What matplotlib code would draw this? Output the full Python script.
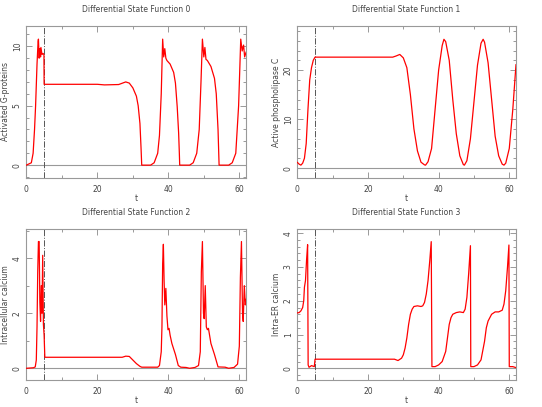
import matplotlib
matplotlib.use('Agg')
import matplotlib.pyplot as plt
from matplotlib.ticker import MultipleLocator

# ---- data ----
t0 = [0, 1.4, 1.9, 2.3, 2.6, 3.0, 3.3, 3.4, 3.6, 3.8, 4.0, 4.1, 4.4, 4.7, 4.95, 5.0,
      20, 22, 26, 28, 29, 30, 31, 31.5, 32, 32.3, 32.5,
      35, 36, 37, 37.5, 38, 38.4, 38.7, 39.0, 39.3, 39.6, 40.5, 41.5, 42.0, 42.5, 42.9, 43.1, 43.2,
      46, 47, 48, 48.7, 49.2, 49.6, 50.0, 50.3, 50.6, 51.0, 52.0, 53.0, 53.5, 54.0, 54.3,
      57, 58, 59, 59.8, 60.4, 60.8, 61.2, 61.5, 61.9]
y0 = [0, 0.2, 1.0, 3.0, 5.0, 8.5, 10.4, 10.6, 9.0, 9.8, 9.1, 9.9, 9.3, 9.4, 9.3, 6.8,
      6.8, 6.75, 6.78, 7.0, 6.9, 6.5, 5.8, 5.0, 3.5, 1.5, 0,
      0, 0.2, 1.0, 2.5, 6.0, 10.6, 9.1, 9.8, 9.0, 8.8, 8.5, 7.8, 6.9, 4.9, 2.7, 1.0, 0,
      0, 0.2, 1.0, 3.0, 7.0, 10.6, 9.1, 9.9, 8.9, 8.8, 8.3, 7.3, 6.0, 3.0, 0,
      0, 0.2, 1.0, 5.0, 10.6, 9.6, 10.1, 9.1, 9.5]

t1 = [0, 0.5, 1.0, 1.5, 2.0, 2.5, 3.0, 3.5, 4.0, 4.5, 5.0,
      27, 28, 29, 30, 31, 32, 33, 34, 35, 36, 36.3, 37, 38, 39, 40, 41, 41.5, 42, 43, 44, 45, 46, 47, 47.3,
      48, 49, 50, 51, 52, 52.6, 53, 54, 55, 56, 57, 58, 58.5, 59, 60, 61, 61.9]
y1 = [1.15, 0.8, 0.6, 1.0, 2.0, 5.0, 12.0, 18.0, 20.5, 22.0, 22.65,
      22.65, 22.9, 23.2, 22.5, 20.5, 15.0, 8.0, 3.5, 1.2, 0.65, 0.6, 1.3, 4.0, 12.0, 20.0, 25.0, 26.3, 25.8, 22.0, 14.0, 7.0, 2.5, 0.7, 0.6,
      1.5, 6.0, 13.5, 21.0, 25.5, 26.3, 25.7, 21.5, 14.0, 6.5, 2.5, 0.8, 0.6, 1.0, 4.0, 12.0, 21.1]

t2 = [0, 2.0, 2.5, 2.8, 3.0, 3.2, 3.4, 3.6, 3.8, 4.0, 4.2, 4.4, 4.6, 4.8, 5.0, 5.2,
      27, 28, 29, 30, 31, 32, 32.5, 37, 37.5, 38, 38.2, 38.4, 38.6, 38.8, 39.0, 39.3, 39.6, 39.9,
      40.2, 40.5, 41, 42, 42.8, 43.5, 45, 46, 47.5, 48.5, 49.0, 49.3, 49.6, 49.9, 50.1, 50.4, 50.7,
      51.0, 51.3, 52, 53, 54, 56, 57, 58.5, 59.5, 60.0, 60.3, 60.6, 60.9, 61.1, 61.4, 61.7, 61.9]
y2 = [0.0, 0.02, 0.05, 0.3, 1.5, 3.5, 4.6, 4.6, 2.4, 1.7, 3.0, 2.0, 4.1, 1.6, 1.2, 0.4,
      0.4, 0.44, 0.43, 0.3, 0.17, 0.07, 0.04, 0.04, 0.1, 0.6, 1.5, 3.8, 4.5, 3.2, 2.3, 2.9, 1.9, 1.4,
      1.45, 1.2, 0.9, 0.5, 0.1, 0.04, 0.03, 0.0, 0.03, 0.1, 0.6, 3.5, 4.6, 2.0, 1.8, 3.0, 1.5,
      1.4, 1.45, 0.9, 0.5, 0.05, 0.04, 0.0, 0.03, 0.15, 0.8, 3.3, 4.6, 2.0, 1.7, 3.0, 2.3, 2.5]

t3 = [0, 0.5, 1.0, 1.5, 1.8, 2.0, 2.3, 2.6, 2.9, 3.05, 3.3, 4.0, 4.8, 5.0,
      27.5, 28.5, 29.5, 30, 30.5, 31, 31.5, 32, 32.5, 33, 34, 35, 35.5, 36, 36.5, 37, 37.5, 37.9,
      38.1, 39, 40, 41, 42, 42.5, 43, 43.5, 44, 45, 46, 47, 47.5, 48, 48.5, 49.0,
      49.1, 50, 51, 52, 53, 53.5, 54, 55, 56, 57, 58, 58.5, 59, 59.5, 59.9,
      60.0, 61, 61.9]
y3 = [1.64, 1.65, 1.7, 1.8, 2.0, 2.4, 2.6, 3.2, 3.66, 0.1, 0.03, 0.08, 0.05, 0.27,
      0.27, 0.23, 0.3, 0.4, 0.6, 0.9, 1.3, 1.6, 1.75, 1.83, 1.85, 1.83, 1.85, 1.95, 2.2, 2.6, 3.2, 3.75,
      0.05, 0.05, 0.1, 0.2, 0.5, 0.9, 1.3, 1.5, 1.6, 1.65, 1.67, 1.65, 1.75, 2.1, 2.8, 3.63,
      0.05, 0.05, 0.1, 0.25, 0.8, 1.2, 1.4, 1.6, 1.67, 1.67, 1.72, 1.9, 2.3, 3.0, 3.65,
      0.05, 0.05, 0.02]

titles = ['Differential State Function 0', 'Differential State Function 1',
          'Differential State Function 2', 'Differential State Function 3']
ylabels = ['Activated G-proteins', 'Active phospholipase C',
           'Intracellular calcium', 'Intra-ER calcium']
ylims = [(-1.07, 11.7), (-2.0, 29.0), (-0.43, 5.05), (-0.35, 4.12)]
ymajor = [5, 10, 2, 1]
yminor = [1, 2, 1, 0.2]
series = [(t0, y0), (t1, y1), (t2, y2), (t3, y3)]

txt = '#444444'
frame = '#999999'
fs = 5.5

fig = plt.figure(figsize=(5.42, 4.07), dpi=100)
boxes = [(0.048, 0.563, 0.406, 0.373), (0.548, 0.563, 0.404, 0.373),
         (0.048, 0.066, 0.406, 0.371), (0.548, 0.066, 0.404, 0.371)]

for i in range(4):
    ax = fig.add_axes(boxes[i])
    t, y = series[i]
    ax.axhline(0, color=frame, lw=0.8, zorder=1)
    ax.axvline(5, color='#555555', lw=0.7, ls='-.', zorder=1)
    ax.plot(t, y, color='red', lw=0.9, zorder=3)
    ax.set_xlim(-0.1, 61.9)
    ax.set_ylim(*ylims[i])
    ax.xaxis.set_major_locator(MultipleLocator(20))
    ax.xaxis.set_minor_locator(MultipleLocator(10))
    ax.yaxis.set_major_locator(MultipleLocator(ymajor[i]))
    ax.yaxis.set_minor_locator(MultipleLocator(yminor[i]))
    ax.tick_params(which='both', direction='in', top=True, right=True,
                   color=frame, labelcolor=txt, labelsize=fs, width=0.7)
    ax.tick_params(which='major', length=4)
    ax.tick_params(which='minor', length=2)
    ax.tick_params(axis='x', which='major', pad=5)
    ax.tick_params(axis='y', which='major', pad=3)
    for lab in ax.get_yticklabels():
        lab.set_rotation(90)
        lab.set_va('center')
    for s in ax.spines.values():
        s.set_color(frame)
        s.set_linewidth(0.8)
    ax.set_title(titles[i], fontsize=fs, color=txt, pad=10)
    ax.set_ylabel(ylabels[i], fontsize=fs, color=txt)
    ax.set_xlabel('t', fontsize=fs, color=txt)
    ax.yaxis.set_label_coords(-0.072, 0.5)
    ax.xaxis.set_label_coords(0.5, -0.105)

fig.savefig('out.png', dpi=100)
